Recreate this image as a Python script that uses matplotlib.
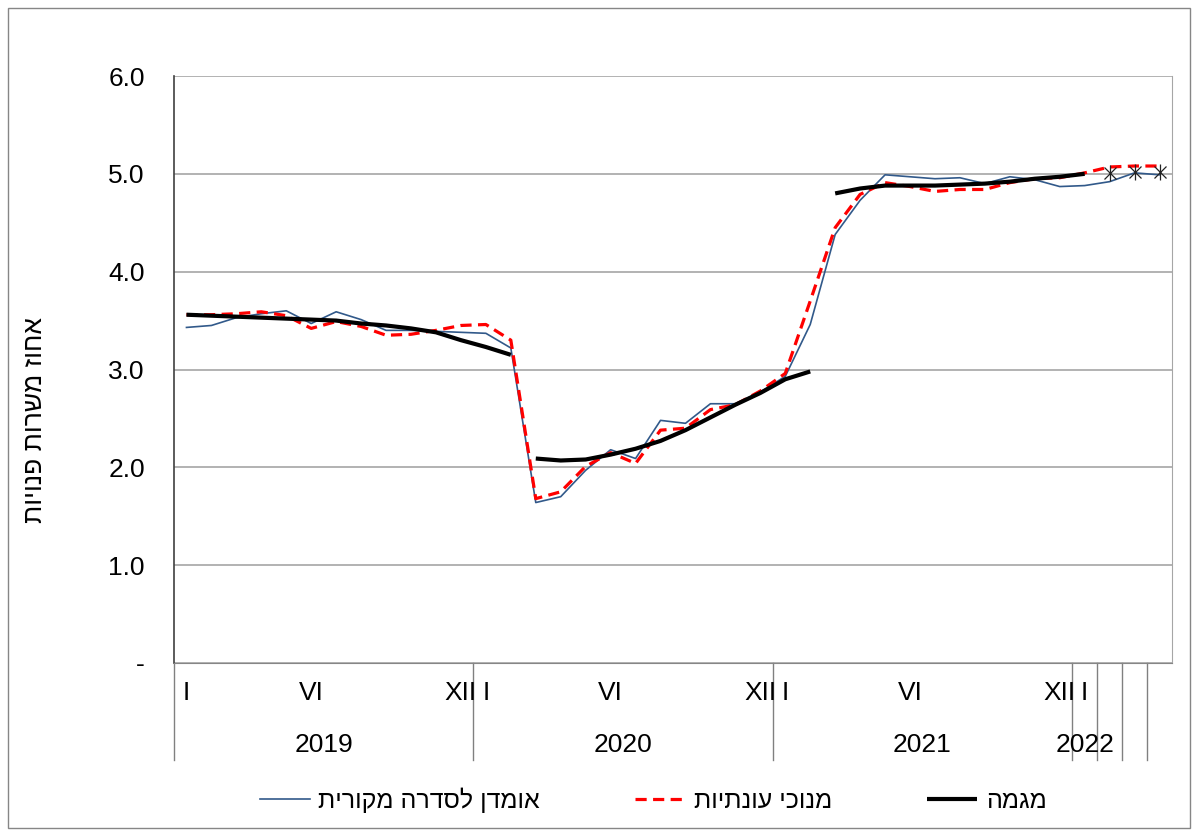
import numpy as np
import matplotlib
matplotlib.use("Agg")
import matplotlib.pyplot as plt
from matplotlib.patches import Rectangle
from matplotlib.lines import Line2D

plt.rcParams["font.family"] = ["Liberation Sans", "DejaVu Sans"]


def rtl(s):
    # matplotlib has no bidi support: lay Hebrew out in visual order
    return s[::-1]


# monthly series, Jan 2019 .. Apr 2022
original = [3.43, 3.45, 3.53, 3.57, 3.60, 3.47, 3.59, 3.51, 3.40, 3.40, 3.39, 3.38,
            3.37, 3.22, 1.64, 1.70, 1.97, 2.18, 2.09, 2.48, 2.45, 2.65, 2.65, 2.77,
            2.93, 3.46, 4.38, 4.73, 4.99, 4.97, 4.95, 4.96, 4.90, 4.97, 4.94, 4.87,
            4.88, 4.92, 5.01, 4.99]
seas_adj = [3.56, 3.56, 3.57, 3.59, 3.55, 3.42, 3.49, 3.44, 3.35, 3.36, 3.40, 3.45,
            3.46, 3.30, 1.68, 1.75, 2.01, 2.15, 2.04, 2.38, 2.40, 2.59, 2.64, 2.78,
            2.96, 3.70, 4.45, 4.79, 4.91, 4.87, 4.82, 4.84, 4.84, 4.91, 4.95, 4.96,
            5.01, 5.07, 5.08, 5.08]
# trend is drawn in separate pieces (start month index, values)
trend_a = (0, [3.56, 3.55, 3.54, 3.53, 3.52, 3.51, 3.50, 3.47, 3.45, 3.42, 3.38, 3.30, 3.23, 3.15])
trend_b = (14, [2.09, 2.07, 2.08, 2.13, 2.19, 2.27, 2.38, 2.51, 2.64, 2.76, 2.90, 2.98])
trend_c = (26, [4.80, 4.85, 4.88, 4.88, 4.88, 4.89, 4.90, 4.92, 4.95, 4.97, 5.00])
trend_prelim = (37, [5.01, 5.02, 5.02])

years = ["2019", "2020", "2021", "2022"]
months_in_year = [12, 12, 12, 4]
month_marks = {0: "I", 5: "VI", 11: "XII"}

lbl_orig = "אומדן לסדרה מקורית"
lbl_sa = "מנוכי עונתיות"
lbl_trend = "מגמה"
ylab = "אחוז משרות פנויות"

BLUE = "#31598A"
x = np.arange(len(original))

fig = plt.figure(figsize=(11.96, 8.34), dpi=100)
ax = fig.add_axes([174 / 1196, 1 - 663 / 834, 998 / 1196, 587 / 834])

h1, = ax.plot(x, original, color=BLUE, lw=1.2, zorder=3)
h2, = ax.plot(x, seas_adj, color="#FF0000", lw=2.3, dashes=(3.5, 2), zorder=4)
for start, vals in (trend_a, trend_b, trend_c):
    h3, = ax.plot(np.arange(start, start + len(vals)), vals, color="black", lw=3,
                  solid_capstyle="butt", zorder=5)
px = np.arange(trend_prelim[0], trend_prelim[0] + len(trend_prelim[1]))
ax.plot(px, trend_prelim[1], ls="none", marker="x", ms=9, mew=0.9, color="#222222", zorder=6)
ax.plot(px, trend_prelim[1], ls="none", marker="|", ms=11, mew=0.9, color="#222222", zorder=6)

ax.set_xlim(-0.5, len(original) - 0.5)
ax.set_ylim(0, 6)
ax.set_yticks(range(7))
ax.set_yticklabels(["-"] + [f"{v:.1f}" for v in range(1, 7)], fontsize=19)
ax.tick_params(axis="y", length=0, pad=21)
ax.set_xticks([])
ax.grid(axis="y", color="#A6A6A6", lw=1.2)
ax.set_axisbelow(True)
ax.spines["top"].set_visible(False)
ax.spines["right"].set_color("#A6A6A6")
ax.spines["bottom"].set_color("#868686")
ax.spines["left"].set_color("#404040")
ax.spines["left"].set_linewidth(1.2)

# two-level category axis
tr = ax.get_xaxis_transform()
y_month, y_year, y_bot = -0.051, -0.140, -0.165
seps = [-0.5]
pos = 0
for yr, n in zip(years, months_in_year):
    for m, lab in month_marks.items():
        if m < n:
            ax.text(pos + m, y_month, lab, transform=tr, ha="center", va="center", fontsize=19)
    if n == 12:
        ax.text(pos + 5.5, y_year, yr, transform=tr, ha="center", va="center", fontsize=19)
        seps.append(pos + n - 0.5)
    else:
        ax.text(pos, y_year, yr, transform=tr, ha="center", va="center", fontsize=19)
        seps += [pos + k + 0.5 for k in range(n - 1)]
    pos += n
for s in seps:
    ax.add_line(Line2D([s, s], [0, y_bot], transform=tr, color="#808080", lw=1, clip_on=False))

fig.text(35 / 1196, 1 - 420 / 834, rtl(ylab), rotation=90, ha="center", va="center", fontsize=19)

fig.legend([h1, h2, h3], [rtl(lbl_orig), rtl(lbl_sa), rtl(lbl_trend)], ncol=3,
           loc="center", bbox_to_anchor=(653 / 1196, 1 - 800 / 834), frameon=False,
           fontsize=18, handlelength=2.0, handletextpad=0.35, columnspacing=3.8)

fig.patches.append(Rectangle((8 / 1196, 6 / 834), 1182 / 1196, 820 / 834,
                             transform=fig.transFigure, fill=False, ec="#868686", lw=1))

fig.savefig("out.png", dpi=100)
